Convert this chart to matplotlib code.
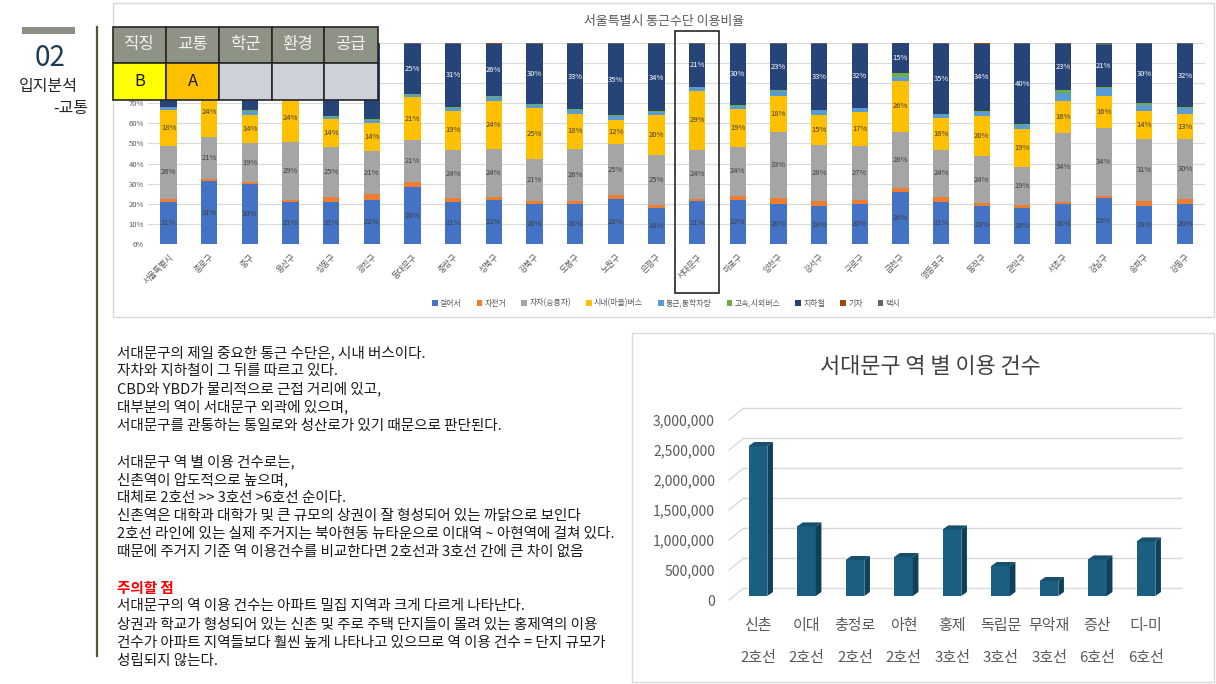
import matplotlib
matplotlib.use("Agg")
import matplotlib.pyplot as plt
from matplotlib.patches import Rectangle, Polygon
from matplotlib.lines import Line2D
import numpy as np

plt.rcParams['font.family'] = ['Noto Sans CJK KR', 'DejaVu Sans']

W, H = 1216, 684
def fx(px): return px / W
def fy(py): return 1 - py / H

# ---------------- data ----------------
districts = ['서울특별시', '종로구', '중구', '용산구', '성동구', '광진구', '동대문구', '중랑구',
             '성북구', '강북구', '도봉구', '노원구', '은평구', '서대문구', '마포구', '양천구',
             '강서구', '구로구', '금천구', '영등포구', '동작구', '관악구', '서초구', '강남구',
             '송파구', '강동구']
walk = [21, 31, 30, 21, 21, 22, 28, 21, 22, 20, 20, 22, 18, 21, 22, 20, 19, 20, 26, 21, 19, 18, 20, 23, 19, 20]
bike = [1.6, 1.1, 1.0, 0.7, 2.3, 2.8, 2.4, 1.8, 1.1, 1.5, 1.7, 2.0, 1.8, 1.0, 2.0, 2.8, 2.5, 1.9, 1.9, 2.5, 1.4, 1.3, 1.0, 1.3, 2.9, 2.6]
car = [26, 21, 19, 29, 25, 21, 21, 24, 24, 21, 26, 25, 25, 24, 24, 33, 28, 27, 28, 24, 24, 19, 34, 34, 31, 30]
bus = [18, 24, 14, 24, 14, 14, 21, 19, 24, 25, 18, 12, 20, 29, 19, 18, 15, 17, 26, 16, 20, 19, 16, 16, 14, 13]
commuter = [1.5, 1.5, 2.1, 1.5, 1.0, 1.7, 1.3, 1.7, 1.9, 1.7, 1.8, 2.1, 1.6, 1.6, 1.6, 2.6, 2.2, 2.0, 1.6, 1.8, 2.0, 2.3, 4.0, 3.7, 3.0, 2.7]
express = [0.3, 0.3, 0.3, 0.3, 0.3, 0.3, 0.2, 0.5, 0.3, 0.5, 0.4, 0.3, 0.4, 0.3, 0.4, 0.3, 0.3, 0.4, 2.0, 0.3, 0.3, 0.3, 1.3, 0.7, 1.0, 0.4]
subway = [31, 20, 33, 23, 36, 37, 25, 31, 26, 30, 33, 35, 34, 21, 30, 23, 33, 32, 15, 35, 34, 40, 23, 21, 30, 32]
train = [0.1, 0.1, 0.1, 0.1, 0.1, 0.1, 0.1, 0.1, 0.1, 0.1, 0.1, 0.1, 0.1, 0.1, 0.1, 0.1, 0.1, 0.1, 0.1, 0.1, 0.1, 0.1, 0.1, 0.1, 0.1, 0.1]
taxi = [0.5, 0.5, 0.4, 0.5, 0.5, 0.5, 0.3, 0.5, 0.2, 0.3, 0.3, 0.4, 0.3, 0.3, 0.5, 0.3, 0.3, 0.3, 0.1, 0.4, 0.2, 0.3, 0.4, 1.0, 0.3, 0.3]

series_names = ['걸어서', '자전거', '자차(승용차)', '시내(마을)버스', '통근,통학차량', '고속,시외버스', '지하철', '기차', '택시']
series_vals = [walk, bike, car, bus, commuter, express, subway, train, taxi]
series_colors = ['#4472C4', '#ED7D31', '#A5A5A5', '#FFC000', '#5B9BD5', '#70AD47', '#264478', '#9E480E', '#636363']
labeled = {0: '#404040', 2: '#404040', 3: '#404040', 6: '#FFFFFF'}
ytick_vals = list(range(0, 101, 10))

stations = ['신촌', '이대', '충정로', '아현', '홍제', '독립문', '무악재', '증산', '디-미']
lines = ['2호선', '2호선', '2호선', '2호선', '3호선', '3호선', '3호선', '6호선', '6호선']
usage = [2500000, 1160000, 600000, 650000, 1110000, 500000, 250000, 610000, 910000]

header = ['직징', '교통', '학군', '환경', '공급']
grades = ['B', 'A', '', '', '']
grade_colors = ['#FFFF00', '#FFC000', '#CDD1D9', '#CDD1D9', '#CDD1D9']

text_lines = [
    ('서대문구의 제일 중요한 통근 수단은, 시내 버스이다.', False),
    ('자차와 지하철이 그 뒤를 따르고 있다.', False),
    ('CBD와 YBD가 물리적으로 근접 거리에 있고,', False),
    ('대부분의 역이 서대문구 외곽에 있으며,', False),
    ('서대문구를 관통하는 통일로와 성산로가 있기 때문으로 판단된다.', False),
    ('', False),
    ('서대문구 역 별 이용 건수로는,', False),
    ('신촌역이 압도적으로 높으며,', False),
    ('대체로 2호선 >> 3호선 >6호선 순이다.', False),
    ('신촌역은 대학과 대학가 및 큰 규모의 상권이 잘 형성되어 있는 까닭으로 보인다', False),
    ('2호선 라인에 있는 실제 주거지는 북아현동 뉴타운으로 이대역 ~ 아현역에 걸쳐 있다.', False),
    ('때문에 주거지 기준 역 이용건수를 비교한다면 2호선과 3호선 간에 큰 차이 없음', False),
    ('', False),
    ('주의할 점', True),
    ('서대문구의 역 이용 건수는 아파트 밀집 지역과 크게 다르게 나타난다.', False),
    ('상권과 학교가 형성되어 있는 신촌 및 주로 주택 단지들이 몰려 있는 홍제역의 이용', False),
    ('건수가 아파트 지역들보다 훨씬 높게 나타나고 있으므로 역 이용 건수 = 단지 규모가', False),
    ('성립되지 않는다.', False),
]

# ---------------- figure ----------------
fig = plt.figure(figsize=(W / 100, H / 100), dpi=100)
fig.patch.set_facecolor('white')

# left header
fig.patches.append(Rectangle((fx(22), fy(34)), fx(75) - fx(22), fy(27) - fy(34),
                             transform=fig.transFigure, facecolor='#8C8F83', edgecolor='none'))
fig.text(fx(50), fy(58), '02', fontsize=20, color='#1F3B52', ha='center', va='center')
fig.text(fx(48), fy(87), '입지분석', fontsize=11.5, color='#262626', ha='center', va='center',
         fontweight='medium')
fig.text(fx(88), fy(109), '-교통', fontsize=11.5, color='#262626', ha='right', va='center',
         fontweight='medium')
fig.lines.append(Line2D([fx(97), fx(97)], [fy(27), fy(656)], transform=fig.transFigure,
                        color='#55553F', linewidth=1.6))

# top chart frame
fig.patches.append(Rectangle((fx(113), fy(317)), fx(1214) - fx(113), fy(3) - fy(317),
                             transform=fig.transFigure, facecolor='none', edgecolor='#D9D9D9', linewidth=1))

# ---------------- top stacked chart ----------------
n = len(districts)
x = np.arange(n)
vals = np.array(series_vals, dtype=float)
totals = vals.sum(axis=0)
pct = vals / totals * 100

ax = fig.add_axes([fx(148.3), fy(244), fx(1205.3) - fx(148.3), fy(43) - fy(244)])
ax.set_xlim(-0.5, n - 0.5)
ax.set_ylim(0, 100)

# table area (in pixel coords) - labels fully hidden beneath it are not drawn
tbl_x0, tbl_x1, tbl_y0, tbl_y1 = 113, 378, 27, 100
def hidden(px, py):
    return tbl_x0 <= px <= tbl_x1 and tbl_y0 - 4 <= py <= tbl_y1 + 3

bottom = np.zeros(n)
handles = []
for k, (name, col) in enumerate(zip(series_names, series_colors)):
    b = ax.bar(x, pct[k], bottom=bottom, width=0.4, color=col, label=name, zorder=3)
    handles.append(b)
    if k in labeled:
        for i in range(n):
            yc = bottom[i] + pct[k][i] / 2
            px = 168.6 + i * 40.66
            py = 244 - yc * 2.01
            if hidden(px, py):
                continue
            ax.text(x[i], yc, f"{series_vals[k][i]:.0f}%",
                    ha='center', va='center', fontsize=5.5, color=labeled[k], zorder=4)
    bottom += pct[k]

ax.set_yticks(ytick_vals)
ax.set_yticklabels([f"{v}%" if not hidden(135, 244 - v * 2.01) else '' for v in ytick_vals],
                   fontsize=5.5, color='#595959')
ax.yaxis.grid(True, color='#D9D9D9', linewidth=0.8, zorder=0)
ax.set_axisbelow(True)
for s in ax.spines.values():
    s.set_visible(False)
ax.tick_params(axis='both', length=0)
ax.tick_params(axis='y', pad=3)
ax.set_xticks(x)
ax.set_xticklabels(districts, rotation=45, ha='right', rotation_mode='anchor',
                   fontsize=6, color='#595959')
ax.tick_params(axis='x', pad=6)
# highlight box around 서대문구
ax.add_patch(Rectangle((13 - 0.54, -24.4), 1.08, 130.4, facecolor='none',
                       edgecolor='#262626', linewidth=1.2, clip_on=False, zorder=6))

fig.text(fx(664), fy(21), '서울특별시 통근수단 이용비율', fontsize=9.3, color='#595959',
         ha='center', va='center')
leg = fig.legend(handles, series_names, loc='center', bbox_to_anchor=(fx(666), fy(303)),
                 ncol=9, fontsize=5.7, frameon=False, handlelength=0.7, handleheight=0.7,
                 handletextpad=0.3, columnspacing=1.9)
for t in leg.get_texts():
    t.set_color('#595959')

# ---------------- table overlay ----------------
col_edges = [113, 166, 219, 272, 324, 378]
row_edges = [27, 63, 100]
for j in range(5):
    x0, x1 = col_edges[j], col_edges[j + 1]
    fig.patches.append(Rectangle((fx(x0), fy(row_edges[1])), fx(x1) - fx(x0), fy(row_edges[0]) - fy(row_edges[1]),
                                 transform=fig.transFigure, facecolor='#8E9485', edgecolor='#262626',
                                 linewidth=1.2, zorder=10))
    fig.patches.append(Rectangle((fx(x0), fy(row_edges[2])), fx(x1) - fx(x0), fy(row_edges[1]) - fy(row_edges[2]),
                                 transform=fig.transFigure, facecolor=grade_colors[j], edgecolor='#262626',
                                 linewidth=1.2, zorder=10))
    fig.text(fx((x0 + x1) / 2), fy(45), header[j], fontsize=12, color='#F2F2F2',
             ha='center', va='center', zorder=11)
    fig.text(fx((x0 + x1) / 2), fy(81), grades[j], fontsize=12, color='#1A1A1A',
             ha='center', va='center', zorder=11)

# ---------------- body text ----------------
for i, (t, red) in enumerate(text_lines):
    if not t:
        continue
    fig.text(fx(117), fy(353 + i * 18.1), t, fontsize=10.5,
             color='#FF0000' if red else '#1A1A1A', fontweight='bold' if red else 'normal',
             ha='left', va='center')

# ---------------- bottom 3D-style bar chart ----------------
fig.patches.append(Rectangle((fx(632), fy(682)), fx(1214) - fx(632), fy(333) - fy(682),
                             transform=fig.transFigure, facecolor='none', edgecolor='#D9D9D9', linewidth=1))
fig.text(fx(930), fy(367), '서대문구 역 별 이용 건수', fontsize=15.8, color='#404040',
         ha='center', va='center')

xl0, xl1 = -0.75, 8.8
px_per_x = 48.5
ax2 = fig.add_axes([fx(758 + xl0 * px_per_x), fy(600), fx(758 + xl1 * px_per_x) - fx(758 + xl0 * px_per_x),
                    fy(408) - fy(600)])
ax2.set_xlim(xl0, xl1)
ymax = 3200000
ax2.set_ylim(0, ymax)
px_per_y = 192 / ymax
for s in ax2.spines.values():
    s.set_visible(False)

yt = np.arange(0, 3000001, 500000)
ax2.set_yticks(yt)
ax2.set_yticklabels([f"{v:,}" for v in yt], fontsize=10, color='#595959')
ax2.tick_params(axis='y', length=0, pad=4.8)

# walls (side diagonals + back lines)
wall_dx = 15 / px_per_x
wall_dy = 12 / px_per_y
for v in yt:
    ax2.plot([-0.6, -0.6 + wall_dx], [v, v + wall_dy], color='#D9D9D9', lw=1, clip_on=False, zorder=1)
    ax2.plot([-0.6 + wall_dx, 8.72], [v + wall_dy, v + wall_dy], color='#D9D9D9', lw=1, clip_on=False, zorder=1)

xs = np.arange(len(stations))
bw = 0.385
bdx = 5.6 / px_per_x
bdy = 4 / px_per_y
base = bdy
ax2.bar(xs, usage, bottom=base, width=bw, color='#1A5F80', zorder=3)
for i, v in enumerate(usage):
    xl, xr = xs[i] - bw / 2, xs[i] + bw / 2
    top = base + v
    ax2.add_patch(Polygon([(xl, top), (xr, top), (xr + bdx, top + bdy), (xl + bdx, top + bdy)],
                          closed=True, facecolor='#16506E', edgecolor='none', zorder=3, clip_on=False))
    ax2.add_patch(Polygon([(xr, base), (xr + bdx, base + bdy), (xr + bdx, top + bdy), (xr, top)],
                          closed=True, facecolor='#0E4058', edgecolor='none', zorder=3, clip_on=False))

ax2.set_xticks(xs)
ax2.set_xticklabels(stations, fontsize=10.8, color='#595959')
ax2.tick_params(axis='x', length=0, pad=14)
for i, l in enumerate(lines):
    ax2.text(xs[i], -58 / 192, l, transform=ax2.get_xaxis_transform(), fontsize=10.8,
             color='#595959', ha='center', va='center')

fig.savefig('out.png', dpi=100, facecolor='white')
